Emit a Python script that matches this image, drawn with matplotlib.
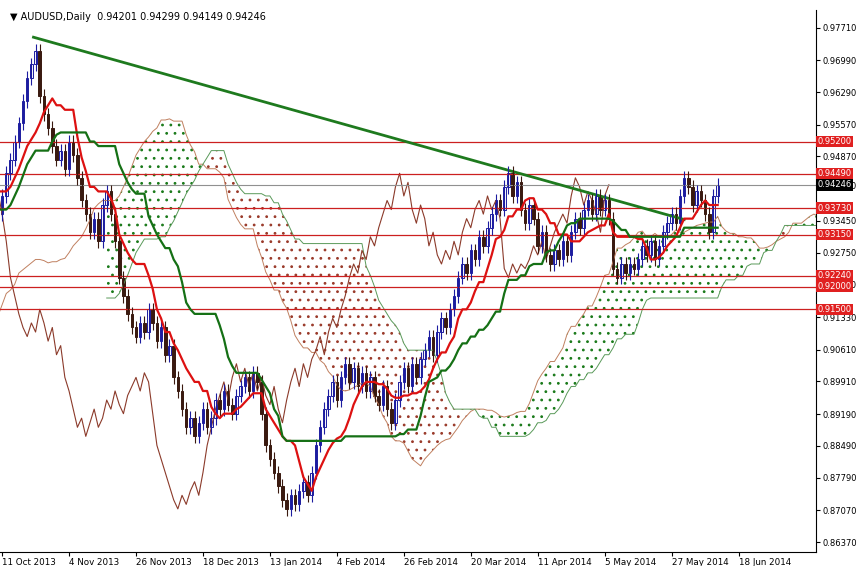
import matplotlib
matplotlib.use('Agg')
import matplotlib.pyplot as plt
import numpy as np

plt.rcParams['hatch.linewidth'] = 0.8

# bars before the visible window (needed for the ichimoku lines)
history = [
    0.902, 0.905, 0.908, 0.904, 0.900, 0.903, 0.898, 0.895, 0.899, 0.897,
    0.892, 0.889, 0.893, 0.890, 0.894, 0.897, 0.901, 0.905, 0.909, 0.912,
    0.915, 0.919, 0.922, 0.925, 0.928, 0.932, 0.935, 0.938, 0.936, 0.939,
    0.942, 0.940, 0.937, 0.934, 0.931, 0.933, 0.930, 0.928, 0.932, 0.935,
    0.938, 0.936, 0.939, 0.941, 0.938, 0.942, 0.944, 0.941, 0.946, 0.943,
    0.939, 0.936,
]
closes = [
    0.940, 0.945, 0.948, 0.952, 0.956, 0.961, 0.966, 0.969, 0.972, 0.962,
    0.958, 0.955, 0.951, 0.948, 0.950, 0.946, 0.952, 0.949, 0.944, 0.939,
    0.936, 0.932, 0.935, 0.930, 0.938, 0.941, 0.936, 0.930, 0.922, 0.918,
    0.914, 0.911, 0.909, 0.912, 0.910, 0.915, 0.912, 0.908, 0.911, 0.905,
    0.907, 0.900, 0.897, 0.893, 0.889, 0.891, 0.887, 0.890, 0.893, 0.889,
    0.891, 0.895, 0.893, 0.897, 0.894, 0.892, 0.896, 0.898, 0.900, 0.897,
    0.901, 0.899, 0.892, 0.885, 0.882, 0.879, 0.876, 0.873, 0.871, 0.874,
    0.872, 0.875, 0.877, 0.874, 0.879, 0.885, 0.889, 0.893, 0.896, 0.899,
    0.895, 0.900, 0.903, 0.899, 0.902, 0.898, 0.901, 0.897, 0.900, 0.896,
    0.894, 0.898, 0.893, 0.890, 0.895, 0.899, 0.902, 0.898, 0.903, 0.900,
    0.904, 0.906, 0.909, 0.905, 0.910, 0.913, 0.911, 0.915, 0.918, 0.922,
    0.925, 0.923, 0.928, 0.926, 0.931, 0.929, 0.933, 0.936, 0.939, 0.937,
    0.942, 0.945, 0.940, 0.943, 0.937, 0.934, 0.938, 0.935, 0.929, 0.932,
    0.927, 0.925, 0.928, 0.926, 0.930, 0.927, 0.932, 0.935, 0.933, 0.937,
    0.939, 0.936, 0.940, 0.937, 0.939, 0.935, 0.924, 0.922, 0.925, 0.923,
    0.925, 0.924, 0.926, 0.929, 0.927, 0.930, 0.926, 0.929, 0.932, 0.934,
    0.936, 0.934, 0.940, 0.944, 0.942, 0.938, 0.941, 0.939, 0.936, 0.932,
    0.940, 0.94246,
]
first_open = 0.900
wick = 0.0015

levels = [0.9520, 0.9449, 0.9373, 0.9315, 0.9224, 0.9200, 0.9150]
last_price = 0.94246
axis_ticks = [0.97710, 0.96990, 0.96290, 0.95570, 0.94870, 0.94230, 0.93450,
              0.92750, 0.92050, 0.91330, 0.90610, 0.89910, 0.89190, 0.88490,
              0.87790, 0.87070, 0.86370]
date_labels = ['11 Oct 2013', '4 Nov 2013', '26 Nov 2013', '18 Dec 2013',
               '13 Jan 2014', '4 Feb 2014', '26 Feb 2014', '20 Mar 2014',
               '11 Apr 2014', '5 May 2014', '27 May 2014', '18 Jun 2014']
trend_start = (7.5, 0.9750)
trend_end = (163, 0.9348)

all_c = np.array(history + closes)
all_o = np.concatenate([[first_open], all_c[:-1]])
all_h = np.maximum(all_o, all_c) + wick
all_l = np.minimum(all_o, all_c) - wick
k = len(history)
N = len(all_c)
gidx = np.arange(N) - k  # visible bars start at 0


def midline(period):
    out = np.full(N, np.nan)
    for i in range(period - 1, N):
        out[i] = (all_h[i - period + 1:i + 1].max() + all_l[i - period + 1:i + 1].min()) / 2
    return out


tenkan = midline(9)
kijun = midline(26)
span_a = (tenkan + kijun) / 2
span_b = midline(52)
sx = gidx + 26

fig = plt.figure(figsize=(8.6, 5.66), dpi=100)
ax = fig.add_axes([0, 14 / 566, 816 / 860, 542 / 566])
ax.set_xlim(-0.5, 194.5)
ax.set_ylim(0.8615, 0.9810)

green = '#1a7a1a'
brown = '#9a3a2a'
ok = ~np.isnan(span_a) & ~np.isnan(span_b)
ax.fill_between(sx[ok], span_a[ok], span_b[ok], where=span_a[ok] >= span_b[ok],
                facecolor='none', edgecolor=green, hatch='..', linewidth=0, interpolate=True)
ax.fill_between(sx[ok], span_a[ok], span_b[ok], where=span_a[ok] < span_b[ok],
                facecolor='none', edgecolor=brown, hatch='..', linewidth=0, interpolate=True)
ax.plot(sx, span_a, color='#c08060', lw=0.7)
ax.plot(sx, span_b, color='#5a9a5a', lw=0.7)

# chikou
ax.plot(gidx - 26, all_c, color='#8b3a2a', lw=0.8)

for lv in levels:
    ax.axhline(lv, color='#cc2020', lw=0.9)
ax.axhline(last_price, color='#909090', lw=0.8)

ax.plot([trend_start[0], trend_end[0]], [trend_start[1], trend_end[1]], color='#1e7a1e', lw=2)

vis = gidx >= 0
idx = gidx[vis]
o, c, h, l = all_o[vis], all_c[vis], all_h[vis], all_l[vis]
up = c >= o
ax.vlines(idx, l, h, color=np.where(up, '#1c1ca0', '#3a1a10'), lw=0.8)
ax.bar(idx[up], (c - o)[up], bottom=o[up], width=0.6, color='white', edgecolor='#1c1ca0', lw=0.7)
ax.bar(idx[~up], (o - c)[~up], bottom=c[~up], width=0.6, color='#3a1a10', edgecolor='#3a1a10', lw=0.7)

ax.plot(gidx, tenkan, color='#dd1111', lw=1.6)
ax.plot(gidx, kijun, color='#157015', lw=1.6)

ax.set_xticks(np.arange(len(date_labels)) * 16)
ax.set_xticklabels(date_labels, fontsize=6.3, ha='left')
ax.tick_params(axis='x', pad=1, length=3)
ax.yaxis.tick_right()
ax.set_yticks(axis_ticks)
ax.set_yticklabels(['%.5f' % t for t in axis_ticks], fontsize=6)
ax.tick_params(axis='y', length=3, pad=2)
for lv in levels:
    ax.text(1.002, lv, '%.5f' % lv, transform=ax.get_yaxis_transform(), fontsize=6,
            color='white', va='center', ha='left',
            bbox=dict(boxstyle='square,pad=0.15', fc='#e02020', ec='none'))
ax.text(1.002, last_price, '%.5f' % last_price, transform=ax.get_yaxis_transform(),
        fontsize=6, color='white', va='center', ha='left',
        bbox=dict(boxstyle='square,pad=0.15', fc='black', ec='none'))
ax.text(0.012, 0.997, '\u25bc AUDUSD,Daily  0.94201 0.94299 0.94149 0.94246', transform=ax.transAxes,
        fontsize=7, va='top', ha='left')
for s in ['top', 'left']:
    ax.spines[s].set_visible(False)

fig.savefig('out.png', dpi=100)
